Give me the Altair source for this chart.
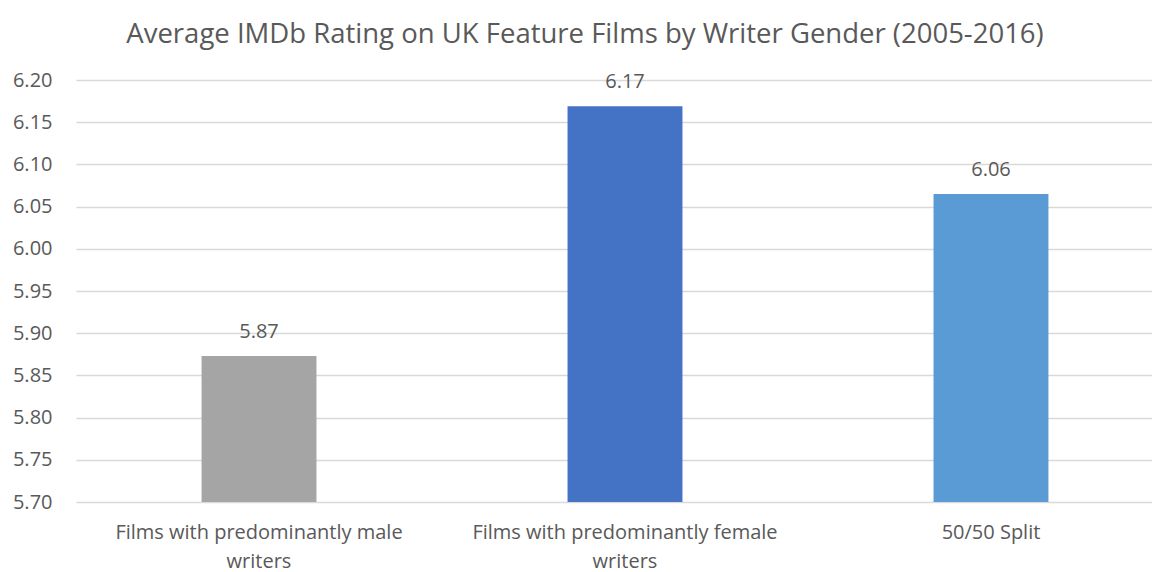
import altair as alt
import pandas as pd

categories = [
    "Films with predominantly male writers",
    "Films with predominantly female writers",
    "50/50 Split",
]
label_lines = [
    ["Films with predominantly male", "writers"],
    ["Films with predominantly female", "writers"],
    ["50/50 Split"],
]
ratings = [5.873, 6.169, 6.065]
rating_labels = ["5.87", "6.17", "6.06"]
colors = ["#A5A5A5", "#4472C4", "#5B9BD5"]
y_ticks = [5.70, 5.75, 5.80, 5.85, 5.90, 5.95, 6.00, 6.05, 6.10, 6.15, 6.20]

df = pd.DataFrame({"cat": categories, "rating": ratings, "lbl": rating_labels})

parts = []
for c, lines in zip(categories, label_lines):
    arr = "[" + ",".join("'" + l + "'" for l in lines) + "]"
    parts.append(f"datum.label == '{c}' ? {arr} : ")
label_expr = "".join(parts) + "datum.label"

FONT = "Open Sans"
TXT = "#595959"

x = alt.X(
    "cat:N",
    sort=categories,
    title=None,
    scale=alt.Scale(paddingInner=0.686, paddingOuter=0.313, align=0.548),
    axis=alt.Axis(
        labelExpr=label_expr,
        labelAngle=0,
        labelFont=FONT,
        labelFontSize=20,
        labelColor=TXT,
        labelLineHeight=29,
        labelPadding=20,
        labelLimit=500,
        ticks=False,
        domain=False,
        grid=False,
    ),
)

bars = alt.Chart(df).mark_bar().encode(
    x=x,
    y=alt.Y(
        "rating:Q",
        title=None,
        scale=alt.Scale(domain=[5.70, 6.20], zero=False, clamp=True),
        axis=alt.Axis(
            values=y_ticks,
            format=".2f",
            labelFont=FONT,
            labelFontSize=20,
            labelColor=TXT,
            labelPadding=24,
            ticks=False,
            domain=False,
            gridColor="#D9D9D9",
            gridWidth=1.3,
        ),
    ),
    y2=alt.datum(5.70),
    color=alt.Color("cat:N", sort=categories,
                    scale=alt.Scale(domain=categories, range=colors), legend=None),
)

texts = alt.Chart(df).mark_text(
    baseline="bottom", dy=-14, font=FONT, fontSize=20, color=TXT
).encode(
    x=alt.X("cat:N", sort=categories),
    y="rating:Q",
    text="lbl:N",
)

chart = (
    alt.layer(bars, texts)
    .properties(
        width=1076,
        height=422,
        title=alt.TitleParams(
            "Average IMDb Rating on UK Feature Films by Writer Gender (2005-2016)",
            font=FONT,
            fontSize=27.5,
            fontWeight="normal",
            color=TXT,
            anchor="middle",
            offset=22,
            dx=-29,
        ),
        autosize=alt.AutoSizeParams(type="none"),
        padding={"left": 68, "top": 72, "right": 0, "bottom": 76},
    )
    .configure_view(stroke=None)
)

chart.save("out.html", embed_options={"renderer": "svg", "actions": False})
